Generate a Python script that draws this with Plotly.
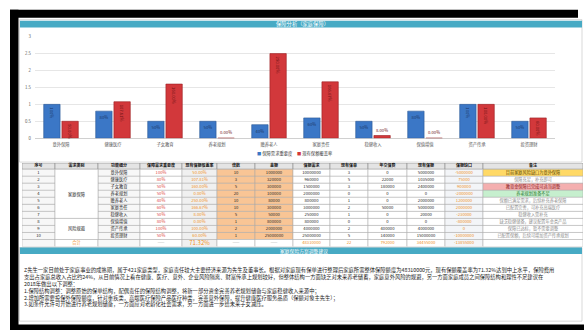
import plotly.graph_objects as go
from itertools import accumulate

W, H = 584, 333
FONT = "Noto Sans CJK SC"

# ---------------- data ----------------
categories = ["意外保障", "健康医疗", "子女教育", "养老规划", "赡养老人",
              "家庭责任", "稳健收入", "保值增值", "资产传承", "投资理财"]
need_weight_pct = [100, 80, 50, 50, 40, 60, 50, 80, 100, 50]          # blue bars (%)
coverage_pct = [50.00, 107.81, 160.00, 0.00, 250.00, 166.67, 8.00, 0.00, 100.00, 60.00]  # red bars (%)
row_no = [1, 2, 3, 4, 5, 6, 7, 8, 9, 10]
need_groups = [("家庭保障", 0, 7), ("风险规避", 7, 10)]   # (label, first row, end row)
multiples = [10, 3, 5, 20, 10, 10, 5, 1, 2, 1]
base_amount = [1000000, 320000, 300000, 100000, 80000, 300000, 50000, 800000, 2000000, 25000000]
need_amount = [10000000, 960000, 1500000, 2000000, 800000, 3000000, 250000, 800000, 4000000, 25000000]
policy_count = [3, 5, 3, 0, 1, 2, 1, 0, 2, 5]
annual_premium = [0, 22000, 180000, 0, 0, 50000, 0, 0, 400000, 140000]
current_cover = [5000000, 1035000, 2400000, 0, 2000000, 5000000, 20000, 0, 4000000, 15000000]
cover_gap = [-5000000, 75000, 900000, -2000000, 1200000, 2000000, -230000, -800000, 0, -10000000]
notes = ["目前家庭风险缺口为意外保障", "保障充足，补充即可", "教育金保障已完成可适当调整",
         "养老规划准备不足", "保额已满足需求，后续补充养老保障", "已配置完善，可补充高端医疗",
         "稳健收入需补充", "缺乏稳健储备，建议配置年金类产品", "保障已达标，暂不需要调整",
         "已配置保额，后续可增加资产传承规划"]
total_need = 48310000
total_policies = 22
total_premium = 792000
total_cover = 34455000
total_gap = -13855000
total_coverage = "71.32%"
y_ticks = [0, 0.5, 1, 1.5, 2, 2.5, 3]
headers = ["序号", "需求类别", "功能细分", "保障需求重要度", "现有保额覆盖率", "倍数", "金额",
           "保额需求", "现有保单", "年交保费", "现有保额", "保额缺口", "备注"]
para_lines = [
    "Z先生一家目前处于家庭事业的成熟期，属于421家庭类型，家庭责任较大主要经济来源为先生及董事长。根据对家庭现有保单进行整理后家庭所需整体保障额度为48310000元，现有保额覆盖率为71.32%达到中上水平，保险费用",
    "支出占家庭总收入占比约24%，从目前情况上看在健康、医疗、意外、企业风险隔离、财富传承上规划较好，但整体结构一方面缺乏对未来养老储蓄，家庭意外风险的规避，另一方面家庭成员之间保障结构和理性不足建议在",
    "2018年做出以下调整：",
    "1.保障结构调整：调整原始的保单结构，配偶责任的保障结构调整，将新一部分资金完善养老规划储备与家庭稳健收入来源中；",
    "2.增加所需要投保外保障额度，针对重疾类，高端医疗保险产品医疗种类，完善意外保障，提升健康医疗服务品质（保额对象主先生）；",
    "3.如条件允许可开始进行养老规划储备，一方面应对老龄化社会需求，另一方面进一步给未来子女减压。",
]

# ---------------- helpers ----------------
def px(x):
    return x / W

def py(y):
    return 1 - y / H

TEAL = "#47AAC4"
BLUE = "#3B77C6"
RED = "#D2383B"

fig = go.Figure()

blue_vals = [v / 100 for v in need_weight_pct]
red_vals = [v / 100 for v in coverage_pct]

fig.add_trace(go.Bar(
    x=categories, y=blue_vals, name="保障需求重要度",
    marker=dict(color=BLUE, line=dict(color="#2A5896", width=0.6)),
    text=[f"{v}%" for v in need_weight_pct],
    textposition=["inside" if v >= 0.3 else "outside" for v in blue_vals],
    insidetextanchor="end", constraintext="none",
    textfont=dict(size=4.2, color="#1C3766", family=FONT),
    cliponaxis=False, hoverinfo="skip",
))
fig.add_trace(go.Bar(
    x=categories, y=red_vals, name="现有保额覆盖率",
    marker=dict(color=RED, line=dict(color="#9A1E21", width=0.6)),
    text=[f"{v:.2f}%" for v in coverage_pct],
    textposition=["inside" if v >= 0.3 else "outside" for v in red_vals],
    insidetextanchor="end", constraintext="none",
    textfont=dict(size=4.2, color="#6E1416", family=FONT),
    cliponaxis=False, hoverinfo="skip",
))

# ---------------- table (drawn on its own hidden axes) ----------------
col_widths = [33, 43, 42, 42, 35, 38, 38, 37, 38, 39, 38, 38, 100]
row_heights = [6.3] + [7.15] * 11           # header, 10 rows, total
col_edges = [0] + list(accumulate(col_widths))
row_edges = [0] + list(accumulate(row_heights))
TW, TH = col_edges[-1], row_edges[-1]

fmt = lambda v: f"{v}"
col_vals = [
    [str(v) for v in row_no] + [""],
    [""] * 10 + ["合计"],
    categories + [""],
    [f"{v}%" for v in need_weight_pct] + ["——"],
    [f"{v:.2f}%" for v in coverage_pct] + [total_coverage],
    [fmt(v) for v in multiples] + ["——"],
    [fmt(v) for v in base_amount] + ["——"],
    [fmt(v) for v in need_amount] + [fmt(total_need)],
    [fmt(v) for v in policy_count] + [fmt(total_policies)],
    [fmt(v) for v in annual_premium] + [fmt(total_premium)],
    [fmt(v) for v in current_cover] + [fmt(total_cover)],
    [fmt(v) for v in cover_gap] + [fmt(total_gap)],
    notes + [""],
]
n = 11
ORANGE_BG = "#F9C595"
ORANGE_TX = "#F0901E"
GRAY_TX = "#A0A0A0"
dark = "#262626"
note_fill = ["#FFD966", "white", "#F4AFAF", "#C6EFCE"] + ["white"] * 6 + ["white"]
note_font = ["#5A4500", "#8C8C8C", "#8B1A1A", "#2E7D32"] + ["#8C8C8C"] * 6 + ["#8C8C8C"]
fills = [
    ["#F7F7F7"] * n, ["white"] * n, ["#F7F7F7"] * n, ["white"] * n, ["#F0F0F0"] * n,
    [ORANGE_BG] * (n - 1) + ["white"], [ORANGE_BG] * (n - 1) + ["white"],
    ["white"] * n, ["white"] * n, ["white"] * n, ["white"] * n, ["#F3F5F8"] * n, note_fill,
]
fonts = [
    [dark] * n, [dark] * (n - 1) + [ORANGE_TX], [dark] * n,
    ["#E0453F"] * (n - 1) + [GRAY_TX], [ORANGE_TX] * n,
    [dark] * (n - 1) + [GRAY_TX], [dark] * (n - 1) + [GRAY_TX],
    [dark] * (n - 1) + [ORANGE_TX], [dark] * (n - 1) + [ORANGE_TX],
    [dark] * (n - 1) + [ORANGE_TX], [dark] * (n - 1) + [ORANGE_TX],
    [ORANGE_TX] * n, note_font,
]

shapes = []
LINE_C = "#A6A6A6"
# header cells
for c in range(13):
    shapes.append(dict(type="rect", xref="x2", yref="y2", x0=col_edges[c], x1=col_edges[c + 1],
                       y0=row_edges[0], y1=row_edges[1], fillcolor="#E4E4E4",
                       line=dict(color="#8C8C8C", width=0.6), layer="below"))
# body cells
for c in range(13):
    for r in range(n):
        if c == 1 and r < 10:
            continue
        shapes.append(dict(type="rect", xref="x2", yref="y2", x0=col_edges[c], x1=col_edges[c + 1],
                           y0=row_edges[r + 1], y1=row_edges[r + 2], fillcolor=fills[c][r],
                           line=dict(color=LINE_C, width=0.5), layer="below"))
# merged group cells
for label, r0, r1 in need_groups:
    shapes.append(dict(type="rect", xref="x2", yref="y2", x0=col_edges[1], x1=col_edges[2],
                       y0=row_edges[r0 + 1], y1=row_edges[r1 + 1], fillcolor="white",
                       line=dict(color=LINE_C, width=0.5), layer="below"))

tx, ty, tt, tc, ts = [], [], [], [], []
for c in range(13):
    cx = (col_edges[c] + col_edges[c + 1]) / 2
    tx.append(cx); ty.append((row_edges[0] + row_edges[1]) / 2)
    tt.append(f"<b>{headers[c]}</b>"); tc.append("#111111"); ts.append(4.0)
    for r in range(n):
        if col_vals[c][r] == "":
            continue
        tx.append(cx); ty.append((row_edges[r + 1] + row_edges[r + 2]) / 2)
        tt.append(col_vals[c][r]); tc.append(fonts[c][r])
        ts.append(6.0 if (c == 4 and r == n - 1) else 4.2)
for label, r0, r1 in need_groups:
    tx.append((col_edges[1] + col_edges[2]) / 2)
    ty.append((row_edges[r0 + 1] + row_edges[r1 + 1]) / 2 + (0.8 if r0 == 0 else -0.5))
    tt.append(label); tc.append(dark); ts.append(4.2)

fig.add_trace(go.Scatter(
    x=tx, y=ty, text=tt, mode="text", xaxis="x2", yaxis="y2",
    textfont=dict(size=ts, color=tc, family=FONT), textposition="middle center",
    hoverinfo="skip", cliponaxis=False,
))

# ---------------- decoration ----------------
deco = []
deco.append(dict(type="rect", xref="paper", yref="paper", x0=px(10), x1=px(18.5), y0=py(333), y1=py(7),
                 fillcolor="black", line=dict(width=0), layer="below"))
deco.append(dict(type="rect", xref="paper", yref="paper", x0=px(10), x1=px(578), y0=py(15), y1=py(7),
                 fillcolor="black", line=dict(width=0), layer="below"))
deco.append(dict(type="rect", xref="paper", yref="paper", x0=px(10), x1=px(584), y0=py(333), y1=py(327.5),
                 fillcolor="black", line=dict(width=0), layer="below"))
deco.append(dict(type="rect", xref="paper", yref="paper", x0=px(19.5), x1=px(582), y0=py(162), y1=py(17),
                 fillcolor="white", line=dict(color="#BFBFBF", width=0.6), layer="below"))
deco.append(dict(type="rect", xref="paper", yref="paper", x0=px(20), x1=px(582), y0=py(25), y1=py(18),
                 fillcolor=TEAL, line=dict(width=0), layer="below"))
deco.append(dict(type="rect", xref="paper", yref="paper", x0=px(19.5), x1=px(582), y0=py(324), y1=py(249),
                 fillcolor="white", line=dict(color="#BFBFBF", width=0.6), layer="below"))
deco.append(dict(type="rect", xref="paper", yref="paper", x0=px(20), x1=px(582), y0=py(255.5), y1=py(249),
                 fillcolor=TEAL, line=dict(width=0), layer="below"))

annotations = [
    dict(text="保障分析（家庭保障）", x=px(302), y=py(21.5), xref="paper", yref="paper",
         showarrow=False, font=dict(size=5.3, color="white", family=FONT), xanchor="center", yanchor="middle"),
    dict(text="家庭保险方案调整建议", x=px(304), y=py(252.3), xref="paper", yref="paper",
         showarrow=False, font=dict(size=4.8, color="white", family=FONT), xanchor="center", yanchor="middle"),
    dict(text=f"<span style='color:{BLUE}'>■</span> 保障需求重要度", x=px(255), y=py(153.5),
         xref="paper", yref="paper", showarrow=False, xanchor="left", yanchor="middle",
         font=dict(size=4.3, color="#404040", family=FONT)),
    dict(text=f"<span style='color:{RED}'>■</span> 现有保额覆盖率", x=px(295), y=py(153.5),
         xref="paper", yref="paper", showarrow=False, xanchor="left", yanchor="middle",
         font=dict(size=4.3, color="#404040", family=FONT)),
    dict(text="<br>".join(para_lines), x=px(21.5), y=py(266), xref="paper", yref="paper",
         showarrow=False, xanchor="left", yanchor="top", align="left",
         font=dict(size=5.3, color="#1A1A1A", family=FONT)),
]

fig.update_layout(
    width=W, height=H,
    margin=dict(l=0, r=0, t=0, b=0),
    paper_bgcolor="white", plot_bgcolor="rgba(0,0,0,0)",
    showlegend=False,
    barmode="group", bargap=0.3, bargroupgap=0.1,
    font=dict(family=FONT),
    xaxis=dict(domain=[px(35), px(555)], showgrid=False, showline=False, zeroline=False,
               ticks="", tickfont=dict(size=4.3, color="#595959", family=FONT), ticklabelstandoff=2),
    yaxis=dict(domain=[py(137.7), py(34.3)], range=[0, 3], tickvals=y_ticks,
               ticktext=[f"{v:g}" for v in y_ticks],
               showgrid=True, gridcolor="#E6E6E6", gridwidth=0.6, zeroline=True,
               zerolinecolor="#D0D0D0", zerolinewidth=0.6, showline=False, ticks="",
               tickfont=dict(size=4.3, color="#595959", family=FONT), ticklabelstandoff=3),
    xaxis2=dict(domain=[px(22), px(583)], range=[0, TW], visible=False, anchor="y2", fixedrange=True),
    yaxis2=dict(domain=[py(248), py(163)], range=[TH, 0], visible=False, anchor="x2", fixedrange=True),
    shapes=deco + shapes,
    annotations=annotations,
)

fig.write_html("out.html")
